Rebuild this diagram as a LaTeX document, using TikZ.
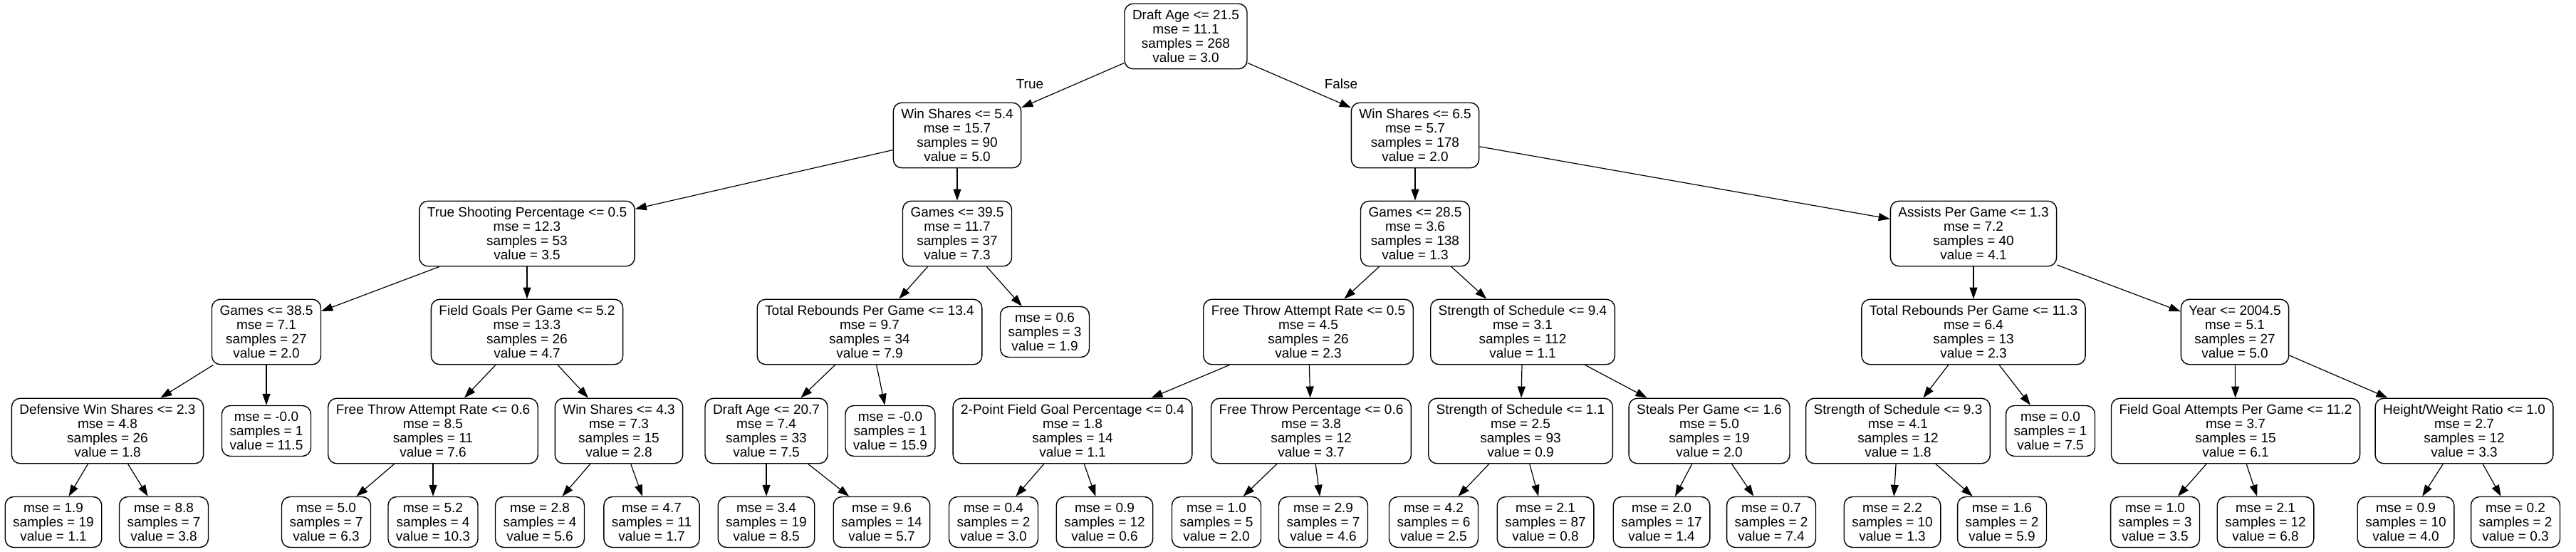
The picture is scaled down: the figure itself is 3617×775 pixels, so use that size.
\documentclass[tikz,border=0pt]{standalone}
\usepackage{fontspec}
\setmainfont{Liberation Sans}
\usetikzlibrary{arrows.meta}

\begin{document}
\begin{tikzpicture}[x=0.5pt,y=-0.5pt,
	box/.style={draw,rounded corners=6pt,line width=0.7pt,align=center,inner xsep=5.5pt,inner ysep=0pt,font=\treefont},
	split/.style={box,minimum height=45.75pt},
	leaf/.style={box,minimum height=35.5pt},
	edge/.style={line width=0.6pt,-{Triangle[length=8pt,width=5.5pt]}},
	lbl/.style={font=\treefont,inner sep=0pt}]
				\newcommand{\treefont}{\fontsize{9.5}{10}\selectfont}
				\useasboundingbox (0,0) rectangle (3617,775);
				%Root
				\node [split] (n0) at (1665,51) {Draft Age <= 21.5\\mse = 11.1\\samples = 268\\value = 3.0};
				%Level 1
				\node [split] (n1) at (1344,190) {Win Shares <= 5.4\\mse = 15.7\\samples = 90\\value = 5.0};
				\node [split] (n2) at (1987,190) {Win Shares <= 6.5\\mse = 5.7\\samples = 178\\value = 2.0};
				%Level 2
				\node [split] (n3) at (740,328) {True Shooting Percentage <= 0.5\\mse = 12.3\\samples = 53\\value = 3.5};
				\node [split] (n4) at (1344,328) {Games <= 39.5\\mse = 11.7\\samples = 37\\value = 7.3};
				\node [split] (n5) at (1987,328) {Games <= 28.5\\mse = 3.6\\samples = 138\\value = 1.3};
				\node [split] (n6) at (2771,328) {Assists Per Game <= 1.3\\mse = 7.2\\samples = 40\\value = 4.1};
				%Level 3
				\node [split] (n7) at (374,466) {Games <= 38.5\\mse = 7.1\\samples = 27\\value = 2.0};
				\node [split] (n8) at (740,466) {Field Goals Per Game <= 5.2\\mse = 13.3\\samples = 26\\value = 4.7};
				\node [split] (n9) at (1221,466) {Total Rebounds Per Game <= 13.4\\mse = 9.7\\samples = 34\\value = 7.9};
				\node [leaf] (n10) at (1467,466) {mse = 0.6\\samples = 3\\value = 1.9};
				\node [split] (n11) at (1837,466) {Free Throw Attempt Rate <= 0.5\\mse = 4.5\\samples = 26\\value = 2.3};
				\node [split] (n12) at (2138,466) {Strength of Schedule <= 9.4\\mse = 3.1\\samples = 112\\value = 1.1};
				\node [split] (n13) at (2771,466) {Total Rebounds Per Game <= 11.3\\mse = 6.4\\samples = 13\\value = 2.3};
				\node [split] (n14) at (3138,466) {Year <= 2004.5\\mse = 5.1\\samples = 27\\value = 5.0};
				%Level 4
				\node [split] (n15) at (151,605) {Defensive Win Shares <= 2.3\\mse = 4.8\\samples = 26\\value = 1.8};
				\node [leaf] (n16) at (374,605) {mse = -0.0\\samples = 1\\value = 11.5};
				\node [split] (n17) at (608,605) {Free Throw Attempt Rate <= 0.6\\mse = 8.5\\samples = 11\\value = 7.6};
				\node [split] (n18) at (869,605) {Win Shares <= 4.3\\mse = 7.3\\samples = 15\\value = 2.8};
				\node [split] (n19) at (1076,605) {Draft Age <= 20.7\\mse = 7.4\\samples = 33\\value = 7.5};
				\node [leaf] (n20) at (1250,605) {mse = -0.0\\samples = 1\\value = 15.9};
				\node [split] (n21) at (1506,605) {2-Point Field Goal Percentage <= 0.4\\mse = 1.8\\samples = 14\\value = 1.1};
				\node [split] (n22) at (1841,605) {Free Throw Percentage <= 0.6\\mse = 3.8\\samples = 12\\value = 3.7};
				\node [split] (n23) at (2135,605) {Strength of Schedule <= 1.1\\mse = 2.5\\samples = 93\\value = 0.9};
				\node [split] (n24) at (2400,605) {Steals Per Game <= 1.6\\mse = 5.0\\samples = 19\\value = 2.0};
				\node [split] (n25) at (2665,605) {Strength of Schedule <= 9.3\\mse = 4.1\\samples = 12\\value = 1.8};
				\node [leaf] (n26) at (2879,605) {mse = 0.0\\samples = 1\\value = 7.5};
				\node [split] (n27) at (3139,605) {Field Goal Attempts Per Game <= 11.2\\mse = 3.7\\samples = 15\\value = 6.1};
				\node [split] (n28) at (3460,605) {Height/Weight Ratio <= 1.0\\mse = 2.7\\samples = 12\\value = 3.3};
				%Level 5, the leaves
				\node [leaf] (n29) at (75,733) {mse = 1.9\\samples = 19\\value = 1.1};
				\node [leaf] (n30) at (230,733) {mse = 8.8\\samples = 7\\value = 3.8};
				\node [leaf] (n31) at (458,733) {mse = 5.0\\samples = 7\\value = 6.3};
				\node [leaf] (n32) at (608,733) {mse = 5.2\\samples = 4\\value = 10.3};
				\node [leaf] (n33) at (758,733) {mse = 2.8\\samples = 4\\value = 5.6};
				\node [leaf] (n34) at (915,733) {mse = 4.7\\samples = 11\\value = 1.7};
				\node [leaf] (n35) at (1076,733) {mse = 3.4\\samples = 19\\value = 8.5};
				\node [leaf] (n36) at (1238,733) {mse = 9.6\\samples = 14\\value = 5.7};
				\node [leaf] (n37) at (1395,733) {mse = 0.4\\samples = 2\\value = 3.0};
				\node [leaf] (n38) at (1551,733) {mse = 0.9\\samples = 12\\value = 0.6};
				\node [leaf] (n39) at (1708,733) {mse = 1.0\\samples = 5\\value = 2.0};
				\node [leaf] (n40) at (1858,733) {mse = 2.9\\samples = 7\\value = 4.6};
				\node [leaf] (n41) at (2013,733) {mse = 4.2\\samples = 6\\value = 2.5};
				\node [leaf] (n42) at (2170,733) {mse = 2.1\\samples = 87\\value = 0.8};
				\node [leaf] (n43) at (2333,733) {mse = 2.0\\samples = 17\\value = 1.4};
				\node [leaf] (n44) at (2487,733) {mse = 0.7\\samples = 2\\value = 7.4};
				\node [leaf] (n45) at (2657,733) {mse = 2.2\\samples = 10\\value = 1.3};
				\node [leaf] (n46) at (2811,733) {mse = 1.6\\samples = 2\\value = 5.9};
				\node [leaf] (n47) at (3026,733) {mse = 1.0\\samples = 3\\value = 3.5};
				\node [leaf] (n48) at (3181,733) {mse = 2.1\\samples = 12\\value = 6.8};
				\node [leaf] (n49) at (3378,733) {mse = 0.9\\samples = 10\\value = 4.0};
				\node [leaf] (n50) at (3532,733) {mse = 0.2\\samples = 2\\value = 0.3};
				%Labels of the first split
				\node [lbl] (ltrue) at (1446,118) {True};
				\node [lbl] (lfalse) at (1883,118) {False};
				%Edges
				\draw [edge] (n0) -- (n1);
				\draw [edge] (n0) -- (n2);
				\draw [edge] (n1) -- (n3);
				\draw [edge] (n1) -- (n4);
				\draw [edge] (n2) -- (n5);
				\draw [edge] (n2) -- (n6);
				\draw [edge] (n3) -- (n7);
				\draw [edge] (n3) -- (n8);
				\draw [edge] (n4) -- (n9);
				\draw [edge] (n4) -- (n10);
				\draw [edge] (n5) -- (n11);
				\draw [edge] (n5) -- (n12);
				\draw [edge] (n6) -- (n13);
				\draw [edge] (n6) -- (n14);
				\draw [edge] (n7) -- (n15);
				\draw [edge] (n7) -- (n16);
				\draw [edge] (n8) -- (n17);
				\draw [edge] (n8) -- (n18);
				\draw [edge] (n9) -- (n19);
				\draw [edge] (n9) -- (n20);
				\draw [edge] (n11) -- (n21);
				\draw [edge] (n11) -- (n22);
				\draw [edge] (n12) -- (n23);
				\draw [edge] (n12) -- (n24);
				\draw [edge] (n13) -- (n25);
				\draw [edge] (n13) -- (n26);
				\draw [edge] (n14) -- (n27);
				\draw [edge] (n14) -- (n28);
				\draw [edge] (n15) -- (n29);
				\draw [edge] (n15) -- (n30);
				\draw [edge] (n17) -- (n31);
				\draw [edge] (n17) -- (n32);
				\draw [edge] (n18) -- (n33);
				\draw [edge] (n18) -- (n34);
				\draw [edge] (n19) -- (n35);
				\draw [edge] (n19) -- (n36);
				\draw [edge] (n21) -- (n37);
				\draw [edge] (n21) -- (n38);
				\draw [edge] (n22) -- (n39);
				\draw [edge] (n22) -- (n40);
				\draw [edge] (n23) -- (n41);
				\draw [edge] (n23) -- (n42);
				\draw [edge] (n24) -- (n43);
				\draw [edge] (n24) -- (n44);
				\draw [edge] (n25) -- (n45);
				\draw [edge] (n25) -- (n46);
				\draw [edge] (n27) -- (n47);
				\draw [edge] (n27) -- (n48);
				\draw [edge] (n28) -- (n49);
				\draw [edge] (n28) -- (n50);
\end{tikzpicture}
\end{document}
